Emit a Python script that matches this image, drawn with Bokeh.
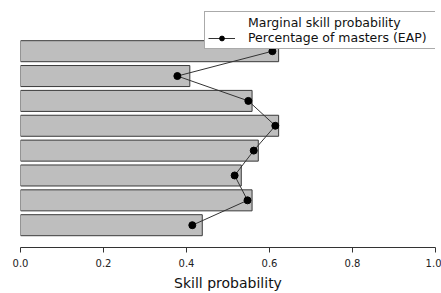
from bokeh.plotting import figure
from bokeh.models import Range1d, FixedTicker, PrintfTickFormatter, Legend, LegendItem, ColumnDataSource
from bokeh.embed import file_html
from bokeh.resources import INLINE

# Skills listed top to bottom
skills = ["K1", "K2", "K3", "K4", "K5", "K6", "K7", "K8"]
marginal = [0.622, 0.408, 0.558, 0.622, 0.573, 0.532, 0.558, 0.438]
eap = [0.607, 0.378, 0.549, 0.614, 0.562, 0.516, 0.547, 0.414]
x_ticks = [0.0, 0.2, 0.4, 0.6, 0.8, 1.0]

n = len(skills)
pos = [n - i for i in range(n)]

src = ColumnDataSource(dict(skill=skills, pos=pos, marginal=marginal, eap=eap))

FONT = "DejaVu Sans"

p = figure(width=441, height=293, x_range=Range1d(0, 1), y_range=Range1d(0.103, 10.039),
           output_backend="svg", toolbar_location=None, y_axis_location=None,
           min_border_left=20, min_border_right=6, min_border_top=0, min_border_bottom=0)
p.grid.visible = False
p.outline_line_color = None
p.background_fill_color = "white"
p.border_fill_color = "white"

p.hbar(y="pos", left=0, right="marginal", height=0.845, source=src,
       fill_color="#bebebe", line_color="#3a3a3a", line_width=1)

r_dummy = p.line(x=[], y=[], line_color="#b4b4b4", line_width=1)
r_line = p.line(x="eap", y="pos", source=src, line_color="#333333", line_width=1)
r_pts = p.scatter(x="eap", y="pos", source=src, size=7, fill_color="black", line_color="black")

ax = p.xaxis[0]
ax.ticker = FixedTicker(ticks=x_ticks, minor_ticks=[])
ax.formatter = PrintfTickFormatter(format="%.1f")
ax.axis_line_color = "#333333"
ax.major_tick_line_color = "#333333"
ax.major_tick_out = 5
ax.major_tick_in = 0
ax.minor_tick_out = 0
ax.minor_tick_in = 0
ax.major_label_standoff = 6
ax.major_label_text_font = FONT
ax.major_label_text_font_size = "10px"
ax.major_label_text_color = "#222222"
ax.axis_label = "Skill probability"
ax.axis_label_text_font = FONT
ax.axis_label_text_font_size = "14px"
ax.axis_label_text_font_style = "normal"
ax.axis_label_text_color = "#111111"
ax.axis_label_standoff = 5

legend = Legend(items=[
    LegendItem(label="Marginal skill probability", renderers=[r_dummy]),
    LegendItem(label="Percentage of masters (EAP)", renderers=[r_line, r_pts]),
], location=(184, 198))
legend.label_text_font = FONT
legend.label_text_font_size = "12.5px"
legend.label_text_color = "#111111"
legend.glyph_width = 27
legend.glyph_height = 12
legend.label_height = 12
legend.label_width = 186
legend.label_standoff = 13
legend.spacing = 0
legend.padding = 3
legend.margin = 0
legend.border_line_color = "#555555"
legend.border_line_width = 1
legend.background_fill_color = "white"
legend.background_fill_alpha = 1.0
p.add_layout(legend)

open("out.html", "w").write(file_html(p, INLINE))
